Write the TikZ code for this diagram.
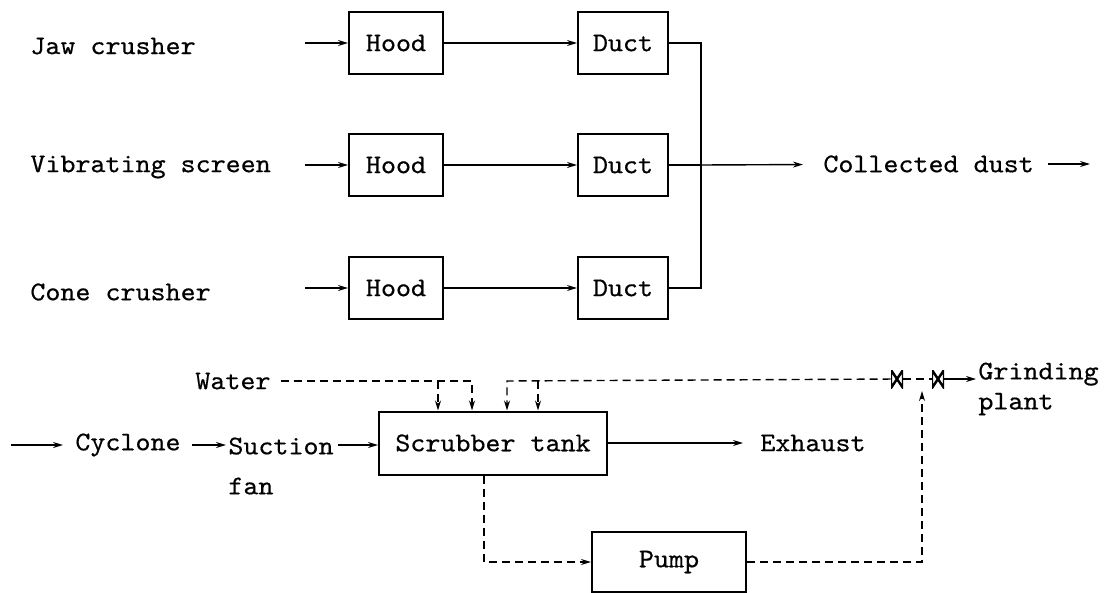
\documentclass[tikz,border=0pt]{standalone}
\usepackage{fontspec}
\setmonofont{lmmono10-regular}[Extension=.otf,FakeStretch=1.06,FakeBold=0.5]
\usetikzlibrary{arrows.meta}
\tikzset{
  unit/.style={draw,line width=1pt,minimum width=47pt,minimum height=31pt,inner sep=0pt},
  lbl/.style={inner sep=0pt,anchor=west,align=left},
  flow/.style={line width=0.7pt},
  wet/.style={flow,dash pattern=on 4pt off 2.5pt},
  valve/.style={minimum width=6pt,minimum height=9pt,inner sep=0pt,
    path picture={\draw[line width=1.2pt] (path picture bounding box.south west) -- (path picture bounding box.north west)
      -- (path picture bounding box.south east) -- (path picture bounding box.north east) -- cycle;}},
}
\begin{document}
\begin{tikzpicture}[x=0.5pt,y=-0.5pt,>={Stealth[length=5pt,width=3pt]},
    font=\ttfamily\fontsize{13.5}{15}\selectfont]
  \useasboundingbox (0,0) rectangle (1106,593);

  \node[lbl] (jaw) at (30,46) {Jaw crusher};
  \node[lbl] (vib) at (30,167) {Vibrating screen};
  \node[lbl] (cone) at (30,292) {Cone crusher};

  \coordinate (in1) at (305,43);
  \coordinate (in2) at (305,165);
  \coordinate (in3) at (305,288);

  \node[unit] (hood1) at (396,43) {Hood};
  \node[unit] (hood2) at (396,165) {Hood};
  \node[unit] (hood3) at (396,288) {Hood};

  \node[unit,minimum width=45pt] (duct1) at (623,43) {Duct};
  \node[unit,minimum width=45pt] (duct2) at (623,165) {Duct};
  \node[unit,minimum width=45pt] (duct3) at (623,288) {Duct};

  \coordinate (bus) at (701,165);
  \node[lbl] (dust) at (823,164) {Collected dust};
  \coordinate (dustout) at (1090,164);

  \draw[flow] (in1) edge[->] (hood1) (in2) edge[->] (hood2) (in3) edge[->] (hood3);
  \draw[flow] (hood1) edge[->] (duct1) (hood2) edge[->] (duct2) (hood3) edge[->] (duct3);
  \draw[flow] (duct1.east) -| (bus) |- (duct3.east);
  \draw[flow] (duct2) -- (bus);
  \draw[flow] (bus) edge[->,shorten >=10pt] (dust);
  \draw[flow] (dust.east) edge[->,shorten <=7pt] (dustout);

  \coordinate (src) at (11,445);
  \node[lbl] (cyc) at (75,445) {Cyclone};
  \node[lbl] (fan) at (228,466) {Suction\\[5pt]fan};
  \node[unit,minimum width=114pt,minimum height=31.5pt] (tank) at (493,443) {Scrubber tank};
  \node[lbl] (exh) at (760,443) {Exhaust};
  \node[lbl] (water) at (195,381) {Water};
  \node[unit,minimum width=77pt,minimum height=30pt] (pump) at (669,562) {Pump};

  \node[valve] (v1) at (897,379) {};
  \node[valve] (v2) at (938,379) {};
  \coordinate (jn) at (922,379);
  \node[lbl] (grind) at (978,389) {Grinding\\plant};

  \coordinate (w1) at (438,381);
  \coordinate (w2) at (472,381);
  \coordinate (w3) at (507,381);
  \coordinate (w4) at (538,381);
  \coordinate (dn) at (484,562);

  \draw[flow] (src) edge[->,shorten >=6pt] (cyc);
  \draw[flow] (cyc.east) edge[->,shorten <=5.5pt,shorten >=1pt] (cyc.east -| fan.west);
  \draw[flow] (cyc.east -| fan.east) edge[->,shorten <=2pt] (cyc.east -| tank.west);
  \draw[flow] (tank) edge[->,shorten >=8.5pt] (exh);

  \draw[wet,->,shorten <=5pt] (water) -- (w2) -- (w2 |- tank.north);
  \draw[wet,->] (w1) -- (w1 |- tank.north);
  \draw[wet,->] (v1) -- (w3) -- (w3 |- tank.north);
  \draw[wet,->] (w4) -- (w4 |- tank.north);
  \draw[wet] (v1) -- (v2);
  \draw[flow] (v2.east) edge[->,shorten >=1pt] (v2.east -| grind.west);

  \draw[wet,->] (dn |- tank.south) -- (dn) -- (pump);
  \draw[wet,->,shorten >=6pt] (pump) -| (jn);
\end{tikzpicture}
\end{document}
